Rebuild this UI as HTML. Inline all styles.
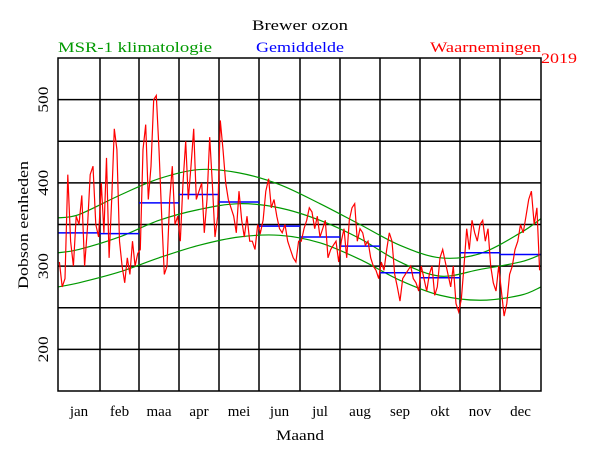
<!DOCTYPE html>
<html><head><meta charset="utf-8"><style>
html,body{margin:0;padding:0;background:#fff;}
svg{display:block;font-family:"Liberation Serif","DejaVu Serif",serif;}
</style></head><body>
<svg id="chart" width="600" height="450" viewBox="0 0 600 450" xmlns="http://www.w3.org/2000/svg">
<rect x="0" y="0" width="600" height="450" fill="#fff"/>
<text x="300" y="30" text-anchor="middle" font-size="15" textLength="96" lengthAdjust="spacingAndGlyphs">Brewer ozon</text>
<text x="58" y="52" font-size="15" fill="#009900" textLength="154" lengthAdjust="spacingAndGlyphs">MSR-1 klimatologie</text>
<text x="256" y="52" font-size="15" fill="#0000ff" textLength="88" lengthAdjust="spacingAndGlyphs">Gemiddelde</text>
<text x="430" y="52" font-size="15" fill="#ff0000" textLength="111" lengthAdjust="spacingAndGlyphs">Waarnemingen</text>
<text x="541" y="63" font-size="15" fill="#ff0000" textLength="36" lengthAdjust="spacingAndGlyphs">2019</text>
<text transform="translate(28,225) rotate(-90)" text-anchor="middle" font-size="15" textLength="128" lengthAdjust="spacingAndGlyphs">Dobson eenheden</text>
<text x="300" y="440" text-anchor="middle" font-size="15" textLength="48" lengthAdjust="spacingAndGlyphs">Maand</text>
<g id="grid"></g>
<g id="clim"></g>
<g id="means"></g>
<g id="obs"></g>
<g id="frame"></g>
<g id="labels"></g>
</svg>
<script>
const months=["jan","feb","maa","apr","mei","jun","jul","aug","sep","okt","nov","dec"];
const yTicks=[200,300,400,500];
const climUpper=[362,385,405,416,412,398,375,350,325,310,315,340];
const climMean=[320,335,355,368,375,370,355,333,305,288,296,305];
const climLower=[280,293,310,325,335,337,328,308,283,265,259,265];
const climEdge=[358,316,275];
const climEdgeEnd=[357,314,275];
const monthMeans=[340,339,376,386,377,348,335,324,292,286,316,314];
const obsJan=[305,275,285,410,330,300,360,350,385,300,345,410,420,350,335];
const obsFeb=[400,340,430,310,380,465,440,330,300,280,310,290,330,300,315];
const obsMar=[320,440,470,380,420,500,505,440,360,290,300,380,420,350,360];
const obsApr=[330,400,450,380,420,465,380,390,400,340,380,455,400,335,360];
const obsMei=[475,440,400,380,370,360,340,390,355,335,360,330,330,320,350];
const obsJun=[340,355,390,405,370,380,360,345,340,350,330,320,310,305,330];
const obsJul=[330,345,355,370,365,345,360,335,345,355,310,320,325,330,305];
const obsAug=[330,345,310,355,370,375,330,345,340,325,330,310,300,295,285];
const obsSep=[305,295,320,340,330,290,275,258,285,290,295,300,285,280,270];
const obsOkt=[300,285,270,290,300,265,275,310,320,305,290,275,300,255,245];
const obsNov=[260,300,345,320,355,340,330,350,355,330,345,300,280,270,300];
const obsDec=[270,240,255,290,300,320,330,350,340,360,380,390,350,370,295];
const obs=[obsJan,obsFeb,obsMar,obsApr,obsMei,obsJun,obsJul,obsAug,obsSep,obsOkt,obsNov,obsDec];

const NS="http://www.w3.org/2000/svg";
const X0=58,X1=541,Y0=58,Y1=391,VMIN=150,VMAX=550;
const gx=[58,100,139,179,219,259,300,340,380,420,460,500,541];
function xM(t){const m=Math.min(11,Math.max(0,Math.floor(t)));return gx[m]+(t-m)*(gx[m+1]-gx[m]);}
function yV(v){return Y1-(v-VMIN)*(Y1-Y0)/(VMAX-VMIN);}
function mk(tag,parent,attrs){const e=document.createElementNS(NS,tag);for(const k in attrs)e.setAttribute(k,attrs[k]);document.getElementById(parent).appendChild(e);return e;}

for(let v=VMIN+50;v<VMAX;v+=50){
  const l=mk('line','grid',{x1:X0,x2:X1,y1:yV(v),y2:yV(v),stroke:'#000','stroke-width':1.5});
  
  
}
for(let m=1;m<12;m++){
  const l=mk('line','grid',{x1:xM(m),x2:xM(m),y1:Y0,y2:Y1,stroke:'#000','stroke-width':1.5});
  
  
}
const fr=mk('rect','frame',{x:X0,y:Y0,width:X1-X0,height:Y1-Y0,fill:'none',stroke:'#000','stroke-width':1.5});



function curve(vals,s,e){
  const pts=[[0,s]];vals.forEach((v,i)=>pts.push([i+0.5,v]));pts.push([12,e]);
  const P=pts.map(p=>[xM(p[0]),yV(p[1])]);
  let d='M'+P[0][0]+','+P[0][1];
  for(let i=0;i<P.length-1;i++){
    const p0=P[Math.max(0,i-1)],p1=P[i],p2=P[i+1],p3=P[Math.min(P.length-1,i+2)];
    const c1=[p1[0]+(p2[0]-p0[0])/6,p1[1]+(p2[1]-p0[1])/6];
    const c2=[p2[0]-(p3[0]-p1[0])/6,p2[1]-(p3[1]-p1[1])/6];
    d+=' C'+c1[0]+','+c1[1]+' '+c2[0]+','+c2[1]+' '+p2[0]+','+p2[1];
  }
  return d;
}
const cu=mk('path','clim',{d:curve(climUpper,climEdge[0],climEdgeEnd[0]),fill:'none',stroke:'#009900','stroke-width':1.2});


const cm=mk('path','clim',{d:curve(climMean,climEdge[1],climEdgeEnd[1]),fill:'none',stroke:'#009900','stroke-width':1.2});


const cl=mk('path','clim',{d:curve(climLower,climEdge[2],climEdgeEnd[2]),fill:'none',stroke:'#009900','stroke-width':1.2});



monthMeans.forEach((v,m)=>{
  const l=mk('line','means',{x1:xM(m),x2:xM(m+1),y1:yV(v),y2:yV(v),stroke:'#0000ff','stroke-width':1.5});
  
  
});

let pts=[];
obs.forEach((arr,m)=>arr.forEach((v,i)=>pts.push(xM(m+(i+0.5)/arr.length).toFixed(1)+','+yV(v).toFixed(1))));
const ol=mk('polyline','obs',{points:pts.join(' '),fill:'none',stroke:'#ff0000','stroke-width':1.2});



yTicks.forEach(v=>{
  const t=mk('text','labels',{transform:'translate(48,'+yV(v)+') rotate(-90)','text-anchor':'middle','font-size':15,textLength:26,lengthAdjust:'spacingAndGlyphs'});
  t.textContent=v;
  
  
});
months.forEach((n,m)=>{
  const t=mk('text','labels',{x:(xM(m)+xM(m+1))/2,y:416,'text-anchor':'middle','font-size':15});
  t.textContent=n;
  
  
});
</script>
</body></html>
